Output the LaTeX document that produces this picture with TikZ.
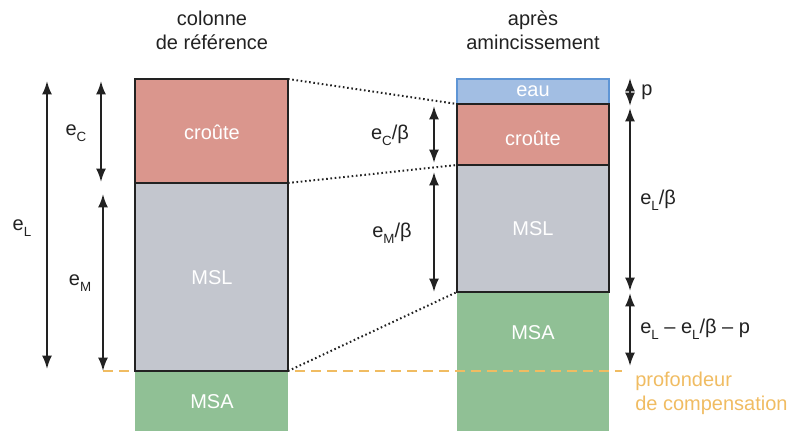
\documentclass[tikz,border=0pt]{standalone}
\usepackage{fontspec}
\setmainfont{Liberation Sans}
\usetikzlibrary{arrows.meta,fit}
\definecolor{crust}{HTML}{DA968D}
\definecolor{msl}{HTML}{C3C6CE}
\definecolor{msa}{HTML}{90C095}
\definecolor{water}{HTML}{A2BEE3}
\definecolor{waterb}{HTML}{5E95D5}
\definecolor{comp}{HTML}{F0BC62}
\definecolor{ink}{HTML}{222222}
\newcommand{\lowsub}[1]{\raisebox{-0.55ex}{\fontsize{10}{10}\selectfont #1}}
\tikzset{
  layer/.style={inner sep=0pt, outer sep=0pt, line width=1.5pt},
  lab/.style={font=\fontsize{15}{18}\selectfont, text=white, inner sep=0pt},
  txt/.style={font=\fontsize{15}{18}\selectfont, text=ink, inner sep=0pt},
  dim/.style={line width=1.5pt, draw=ink, {Latex[length=10pt,width=7.5pt]}-{Latex[length=10pt,width=7.5pt]}},
  link/.style={line width=1.5pt, dash pattern=on 1.2pt off 2pt, draw=ink},
  compline/.style={line width=1.5pt, draw=comp, dash pattern=on 7.5pt off 4.5pt}
}
\begin{document}
\begin{tikzpicture}[x=0.75pt,y=-0.75pt]
\useasboundingbox (0,0) rectangle (799,431);
% right column
\node[layer, fill=msa, fit={(457,292)(609,431)}] (msaR) {};
\node[layer, fill=water, draw=waterb, fit={(457,79)(609,104)}] (eauR) {};
\node[layer, fill=crust, draw=ink, fit={(457,104)(609,165)}] (crR) {};
\node[layer, fill=msl, draw=ink, fit={(457,165)(609,292)}] (mslR) {};
% compensation line
\coordinate (c0) at (103,371);
\coordinate (c1) at (622,371);
\draw[compline] (c0) -- (c1);
% left column
\node[layer, fill=msa, fit={(135,371)(288,431)}] (msaL) {};
\node[layer, fill=crust, draw=ink, fit={(135,79)(288,183)}] (crL) {};
\node[layer, fill=msl, draw=ink, fit={(135,183)(288,371)}] (mslL) {};
% labels in boxes
\node[lab] (t1) at (212,132) {croûte};
\node[lab] (t2) at (212,278) {MSL};
\node[lab] (t3) at (212,402) {MSA};
\node[lab] (t4) at (533,91) {eau};
\node[lab] (t5) at (533,138) {croûte};
\node[lab] (t6) at (533,229) {MSL};
\node[lab] (t7) at (533,333) {MSA};
% dotted links
\draw[link] (crL.north east) -- (crR.north west);
\draw[link] (crL.south east) -- (crR.south west);
\draw[link] (mslL.south east) -- (mslR.south west);
% headers
\node[txt, align=center] (h1) at (212,30) {colonne\\de référence};
\node[txt, align=center] (h2) at (533,30) {après\\amincissement};
% left dimension arrows
\coordinate (eL0) at (47,81); \coordinate (eL1) at (47,369);
\coordinate (eC0) at (101,81); \coordinate (eC1) at (101,182);
\coordinate (eM0) at (103,194); \coordinate (eM1) at (103,371);
\draw[dim] (eL0) -- (eL1);
\draw[dim] (eC0) -- (eC1);
\draw[dim] (eM0) -- (eM1);
\node[txt] (leL) at (22,228) {e\lowsub{L}};
\node[txt] (leC) at (76,133) {e\lowsub{C}};
\node[txt] (leM) at (80,283) {e\lowsub{M}};
% middle arrows
\coordinate (m0) at (434,106); \coordinate (m1) at (434,163);
\coordinate (m2) at (434,172); \coordinate (m3) at (434,292);
\draw[dim] (m0) -- (m1);
\draw[dim] (m2) -- (m3);
\node[txt] (leCb) at (390,135) {e\lowsub{C}/β};
\node[txt] (leMb) at (392,233) {e\lowsub{M}/β};
% right arrows
\coordinate (r0) at (630,78); \coordinate (r1) at (630,106);
\coordinate (r2) at (630,108); \coordinate (r3) at (630,291);
\coordinate (r4) at (630,293); \coordinate (r5) at (630,366);
\draw[dim] (r0) -- (r1);
\draw[dim] (r2) -- (r3);
\draw[dim] (r4) -- (r5);
\node[txt, anchor=west] (lp) at (641,92) {p};
\node[txt, anchor=west] (leLb) at (640,200) {e\lowsub{L}/β};
\node[txt, anchor=west] (ldiff) at (640,329) {e\lowsub{L} – e\lowsub{L}/β – p};
\node[txt, anchor=west, text=comp, align=left] (lcomp) at (635,393) {profondeur\\de compensation};
\end{tikzpicture}
\end{document}
